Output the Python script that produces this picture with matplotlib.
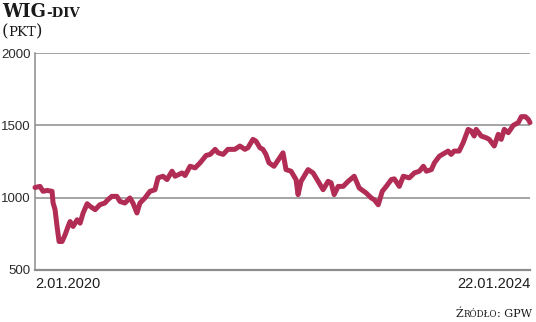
"""
WIG-DIV index, 2.01.2020 - 22.01.2024 (values read off the printed chart).
"""

import matplotlib
matplotlib.use('Agg')
import matplotlib.pyplot as plt
import numpy as np

START = '2020-01-02'
END = '2024-01-22'

# days since START
days = [0, 15, 24, 36, 51, 54, 60, 66, 72, 81, 90, 99, 105, 114, 126, 135,
        144, 156, 165, 180, 194, 209, 218, 230, 245, 254, 269, 284, 293, 305,
        314, 329, 344, 359, 368, 383, 395, 410, 419, 440, 449, 464, 479, 494,
        512, 524, 539, 548, 563, 577, 598, 613, 628, 637, 652, 661, 673, 682,
        691, 700, 715, 742, 751, 766, 781, 787, 796, 817, 832, 850, 862, 877,
        886, 895, 907, 922, 937, 955, 970, 991, 1006, 1015, 1027, 1039, 1051,
        1066, 1075, 1090, 1102, 1120, 1135, 1150, 1162, 1171, 1186, 1195, 1210,
        1236, 1245, 1254, 1269, 1281, 1296, 1305, 1314, 1320, 1335, 1350, 1359,
        1374, 1386, 1395, 1404, 1416, 1431, 1446, 1455, 1467, 1476, 1481]

wig_div = [1070, 1078, 1044, 1050, 1044, 965, 917, 801, 697, 697, 743, 801,
           835, 801, 847, 824, 894, 958, 940, 917, 951, 963, 986, 1009, 1009,
           974, 963, 998, 963, 894, 963, 998, 1044, 1055, 1137, 1148, 1125,
           1183, 1148, 1171, 1153, 1217, 1206, 1241, 1292, 1299, 1334, 1310,
           1299, 1334, 1334, 1357, 1334, 1345, 1403, 1391, 1345, 1334, 1299,
           1241, 1217, 1310, 1194, 1183, 1125, 1021, 1113, 1194, 1171, 1102,
           1055, 1113, 1102, 1021, 1078, 1078, 1113, 1148, 1067, 1032, 998,
           986, 951, 1044, 1078, 1125, 1130, 1078, 1148, 1137, 1171, 1183,
           1217, 1183, 1194, 1241, 1287, 1322, 1299, 1322, 1322, 1380, 1472,
           1461, 1426, 1472, 1426, 1414, 1403, 1357, 1438, 1403, 1472, 1449,
           1500, 1519, 1560, 1560, 1541, 1519]

y_ticks = [500, 1000, 1500, 2000]
date_labels = ['2.01.2020', '22.01.2024']

LINE = '#b22d55'
GRID = '#8c8c8c'
TEXT = '#2b2b2b'
INK = '#1a1a1a'


def text_run(x, y, parts, ha='left', **kw):
    """Write a row of (text, size) pieces next to each other on one baseline."""
    fig.canvas.draw()
    prev = fig.text(x, y, parts[0][0], fontsize=parts[0][1], ha='left',
                    va='baseline', **kw)
    pieces = [prev]
    for s, size in parts[1:]:
        prev = fig.text(0, 0, s, fontsize=size, ha='left', va='baseline', **kw)
        pieces.append(prev)
    r = fig.canvas.get_renderer()
    cur = x * fig.bbox.width
    for p in pieces:
        p.set_position((cur / fig.bbox.width, y))
        cur = p.get_window_extent(r).x1
    if ha == 'right':
        shift = cur - x * fig.bbox.width
        for p in pieces:
            px, py = p.get_position()
            p.set_position((px - shift / fig.bbox.width, py))
    return pieces


dates = np.datetime64(START) + np.array(days).astype('timedelta64[D]')

fig = plt.figure(figsize=(5.36, 3.22), dpi=100)
ax = fig.add_axes([35 / 536, 1 - 270 / 322, 495 / 536, 217 / 322])

for v in y_ticks[1:]:
    ax.axhline(v, color=GRID, lw=1.1, zorder=1)
ax.plot(dates, wig_div, color=LINE, lw=3.6, solid_joinstyle='round',
        solid_capstyle='round', zorder=3, clip_on=False)

ax.set_xlim(np.datetime64(START), np.datetime64(END))
ax.set_ylim(500, 2000)
ax.set_xticks([])
ax.set_yticks(y_ticks)
ax.set_yticklabels([str(v) for v in y_ticks], family='Liberation Sans',
                   fontsize=9.5, color=TEXT)
ax.tick_params(axis='y', length=0, pad=3)

for side in ['top', 'right']:
    ax.spines[side].set_visible(False)
ax.spines['left'].set_color(GRID)
ax.spines['left'].set_linewidth(1.1)
ax.spines['bottom'].set_color(GRID)
ax.spines['bottom'].set_linewidth(1.6)

ax.text(0, -0.03, date_labels[0], transform=ax.transAxes, ha='left', va='top',
        family='Liberation Sans', fontsize=10.5, color='#1e1e1e')
ax.text(1, -0.03, date_labels[1], transform=ax.transAxes, ha='right', va='top',
        family='Liberation Sans', fontsize=10.5, color='#1e1e1e')

# title and unit, set in small caps by hand
text_run(2 / 536, 1 - 17 / 322, [('WIG', 13), ('-DIV', 9.5)],
         family='DejaVu Serif', weight='bold', color=INK)
text_run(2 / 536, 1 - 36 / 322, [('(', 12), ('PKT', 9.5), (')', 12)],
         family='DejaVu Serif', color=INK)

text_run(532 / 536, 1 - 317 / 322,
         [('Ź', 8), ('RÓDŁO', 6.3), (': GPW', 8)],
         ha='right', family='DejaVu Serif', color=INK)

fig.savefig('out.png', dpi=100)
